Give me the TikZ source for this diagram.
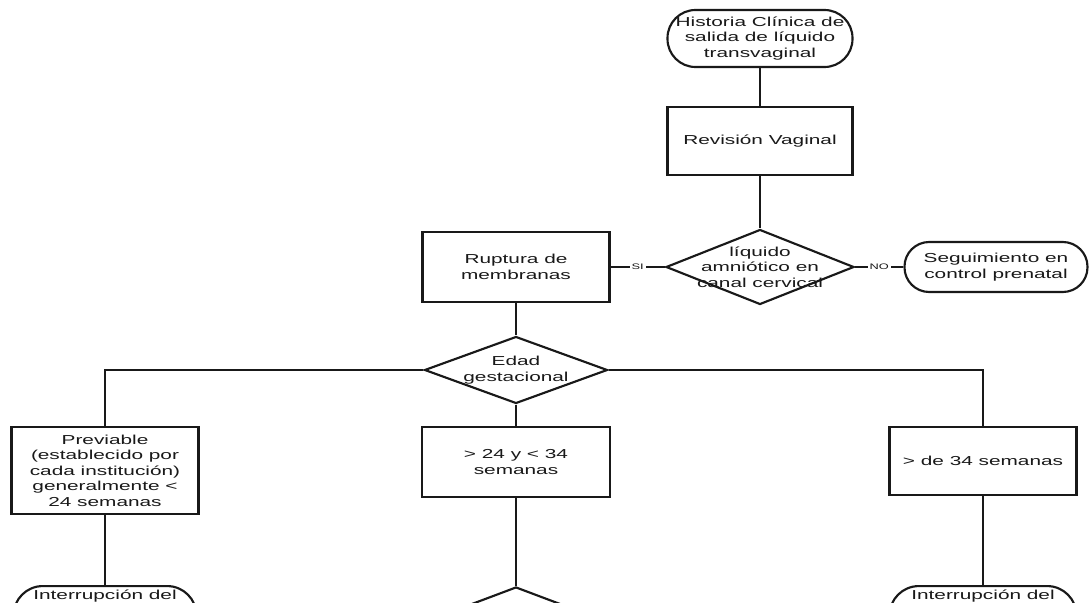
\documentclass[tikz,border=0pt]{standalone}
\usepackage{fontspec}
\newfontfamily\flowfont[FakeStretch=1.6]{Liberation Sans}
\usetikzlibrary{shapes.geometric}
\begin{document}
\begin{tikzpicture}[x=0.75pt,y=-0.75pt,
  txt/.style={font=\flowfont\fontsize{9.75pt}{11.6pt}\selectfont, text=black!90, align=center},
  proc/.style={draw=black!90, line width=1.6pt, fill=white, rectangle, inner sep=2pt, txt},
  term/.style={proc, rounded corners=21pt},
  dec/.style={draw=black!90, line width=1.6pt, fill=white, diamond, inner sep=0pt},
  dlabel/.style={txt},
  conn/.style={draw=black!90, line width=1.6pt},
  lbl/.style={font=\flowfont\fontsize{6pt}{7pt}\selectfont, fill=white, inner sep=1.5pt, text=black!90}
]
\clip (0,0) rectangle (1090,603);
\fill[white] (0,0) rectangle (1090,603);

% nodes
\node[term, minimum width=138.75pt, minimum height=42.75pt] (start) at (760,38.5)
  {Historia Clínica de\\salida de líquido\\transvaginal};
\node[proc, minimum width=138.75pt, minimum height=51pt] (rev) at (760,141) {Revisión Vaginal};
\node[dec, minimum width=141pt, minimum height=56.25pt,
  label={[dlabel]center:líquido\\amniótico en\\canal cervical}] (d1) at (760,267) {};
\node[term, rounded corners=18.5pt, minimum width=137.25pt, minimum height=37.5pt] (seg) at (996,267)
  {Seguimiento en\\control prenatal};
\node[proc, minimum width=140.25pt, minimum height=52.5pt] (rup) at (516,267) {Ruptura de\\membranas};
\node[dec, minimum width=137.25pt, minimum height=50.25pt,
  label={[dlabel]center:Edad\\gestacional}] (d2) at (516,370) {};
\node[proc, minimum width=140.25pt, minimum height=65.25pt] (prev) at (105,470.5)
  {Previable\\(establecido por\\cada institución)\\generalmente <\\24 semanas};
\node[proc, minimum width=141pt, minimum height=52.5pt] (mid) at (516,462) {> 24 y < 34\\semanas};
\node[proc, minimum width=140.25pt, minimum height=51pt] (right) at (983,461) {> de 34 semanas};
\node[term, rounded corners=22pt, anchor=north, minimum width=137.25pt, minimum height=45pt,
  inner ysep=3pt, text height=7pt, text depth=32pt] (int1) at (105,585) {Interrupción del};
\node[term, rounded corners=22pt, anchor=north, minimum width=140.25pt, minimum height=45pt,
  inner ysep=3pt, text height=7pt, text depth=32pt] (int2) at (983,585) {Interrupción del};
\node[dec, minimum width=138.75pt, minimum height=52.5pt] (d3) at (516,622) {};

% connectors
\draw[conn] (start.south) -- (rev.north);
\draw[conn] (rev.south) -- (d1.north);
\draw[conn] (d1.west) -- node[lbl]{SI} (rup.east);
\draw[conn] (d1.east) -- node[lbl]{NO} (seg.west);
\draw[conn] (rup.south) -- (d2.north);
\draw[conn] (d2.west) -| (prev.north);
\draw[conn] (d2.south) -- (mid.north);
\draw[conn] (d2.east) -| (right.north);
\draw[conn] (prev.south) -- (int1.north);
\draw[conn] (mid.south) -- (d3.north);
\draw[conn] (right.south) -- (int2.north);
\end{tikzpicture}
\end{document}
